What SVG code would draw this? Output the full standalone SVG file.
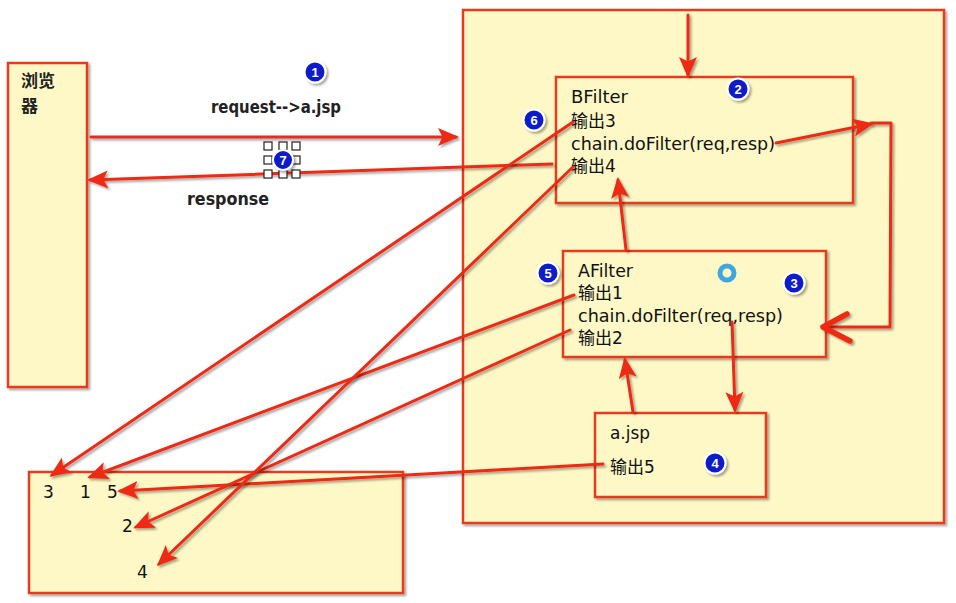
<svg xmlns="http://www.w3.org/2000/svg" width="956" height="603" viewBox="0 0 956 603">
<defs>
<filter id="sh" filterUnits="userSpaceOnUse" x="0" y="0" width="956" height="603">
<feDropShadow dx="2" dy="2" stdDeviation="1.2" flood-color="#000" flood-opacity="0.35"/>
</filter>
<marker id="ah" markerWidth="7" markerHeight="6" refX="6" refY="3" orient="auto" markerUnits="strokeWidth">
<path d="M0,0 L7,3 L0,6 L1.5,3 Z" fill="#ee2a12"/>
</marker>
</defs>
<style>
.box{fill:#fdf8c6;stroke:#e83a1e;stroke-width:2.5;filter:url(#sh)}
.t{font-family:"DejaVu Sans","Noto Sans CJK SC",sans-serif;font-size:17px;fill:#111}
.b{font-weight:bold;fill:#222}
.c{fill:none;stroke:#ee2a12;stroke-width:3;stroke-linecap:round;stroke-linejoin:round;filter:url(#sh)}
.chev{fill:none;stroke:#ee2a12;stroke-width:5.5;stroke-linecap:round;stroke-linejoin:round;filter:url(#sh)}
.dot{fill:#0d1fc8;stroke:#fff;stroke-width:2;filter:url(#sh)}
.dn{font-family:"Liberation Sans",sans-serif;font-size:13px;font-weight:bold;fill:#fff;text-anchor:middle}
.h{fill:#fff;stroke:#222;stroke-width:1.2}
</style>
<rect width="956" height="603" fill="#fff"/>

<g id="browser">
<rect class="box" x="8" y="63" width="79" height="324"/>
<text class="t b" x="21" y="87" font-size="18">浏览</text>
<text class="t b" x="21" y="112" font-size="18">器</text>
</g>

<g id="container">
<rect class="box" x="463" y="10" width="481" height="513"/>
</g>

<g id="bfilter">
<rect class="box" x="556" y="77" width="297" height="126"/>
<text class="t" x="571" y="103" textLength="57" lengthAdjust="spacingAndGlyphs">BFilter</text>
<text class="t" x="571" y="127">输出3</text>
<text class="t" x="571" y="150" textLength="204" lengthAdjust="spacingAndGlyphs">chain.doFilter(req,resp)</text>
<text class="t" x="571" y="172">输出4</text>
</g>

<g id="afilter">
<rect class="box" x="563" y="251" width="263" height="106"/>
<text class="t" x="578" y="277" textLength="55" lengthAdjust="spacingAndGlyphs">AFilter</text>
<text class="t" x="578" y="299">输出1</text>
<text class="t" x="578" y="322" textLength="205" lengthAdjust="spacingAndGlyphs">chain.doFilter(req,resp)</text>
<text class="t" x="578" y="344">输出2</text>
</g>

<g id="ajsp">
<rect class="box" x="595" y="413" width="171" height="84"/>
<text class="t" x="610" y="439" textLength="40" lengthAdjust="spacingAndGlyphs">a.jsp</text>
<text class="t" x="610" y="473">输出5</text>
</g>

<g id="output">
<rect class="box" x="29" y="472" width="374" height="121"/>
<text class="t" x="43" y="498">3</text>
<text class="t" x="80" y="498">1</text>
<text class="t" x="107" y="498">5</text>
<text class="t" x="122" y="532">2</text>
<text class="t" x="137" y="578">4</text>
</g>

<g id="connectors">
<path class="c" d="M91,137 L456,137" marker-end="url(#ah)"/>
<path class="c" d="M552,164 L90,180" marker-end="url(#ah)"/>
<path class="c" d="M688,15 L688,75" marker-end="url(#ah)"/>
<path class="c" d="M776,143 L871,124" marker-end="url(#ah)"/>
<path class="c" d="M871,123 L891,123 L890,327 L824,327"/>
<path class="chev" d="M847,314 L823,327 L850,341"/>
<path class="c" d="M626,250 L618,180" marker-end="url(#ah)"/>
<path class="c" d="M633,412 L625,360" marker-end="url(#ah)"/>
<path class="c" d="M732,322 L735,410" marker-end="url(#ah)"/>
<path class="c" d="M573,122 L52,475" marker-end="url(#ah)"/>
<path class="c" d="M574,295 L90,477" marker-end="url(#ah)"/>
<path class="c" d="M603,464 L120,491" marker-end="url(#ah)"/>
<path class="c" d="M570,330 L136,527" marker-end="url(#ah)"/>
<path class="c" d="M573,167 L159,564" marker-end="url(#ah)"/>
</g>

<g id="step1"><circle class="dot" cx="315" cy="72" r="10.5"/><text class="dn" x="315" y="77">1</text></g>
<g id="step2"><circle class="dot" cx="738" cy="89" r="10.5"/><text class="dn" x="738" y="94">2</text></g>
<g id="step3"><circle class="dot" cx="794" cy="283" r="10.5"/><text class="dn" x="794" y="288">3</text></g>
<g id="step4"><circle class="dot" cx="715" cy="463" r="10.5"/><text class="dn" x="715" y="468">4</text></g>
<g id="step5"><circle class="dot" cx="548" cy="273" r="10.5"/><text class="dn" x="548" y="278">5</text></g>
<g id="step6"><circle class="dot" cx="534" cy="120" r="10.5"/><text class="dn" x="534" y="125">6</text></g>
<g id="step7">
<rect class="h" x="264" y="142" width="8" height="8"/>
<rect class="h" x="279" y="142" width="8" height="8"/>
<rect class="h" x="292" y="142" width="8" height="8"/>
<rect class="h" x="264" y="156" width="8" height="8"/>
<rect class="h" x="292" y="156" width="8" height="8"/>
<rect class="h" x="264" y="170" width="8" height="8"/>
<rect class="h" x="279" y="170" width="8" height="8"/>
<rect class="h" x="292" y="170" width="8" height="8"/>
<circle class="dot" cx="283" cy="160" r="10"/><text class="dn" x="283" y="165">7</text>
</g>
<g id="ring"><circle cx="727" cy="273" r="7" fill="none" stroke="#3fa6e0" stroke-width="5"/></g>

<g id="labels">
<text class="t b" x="211" y="113" textLength="130" lengthAdjust="spacingAndGlyphs">request--&gt;a.jsp</text>
<text class="t b" x="187" y="205" textLength="82" lengthAdjust="spacingAndGlyphs">response</text>
</g>
</svg>
